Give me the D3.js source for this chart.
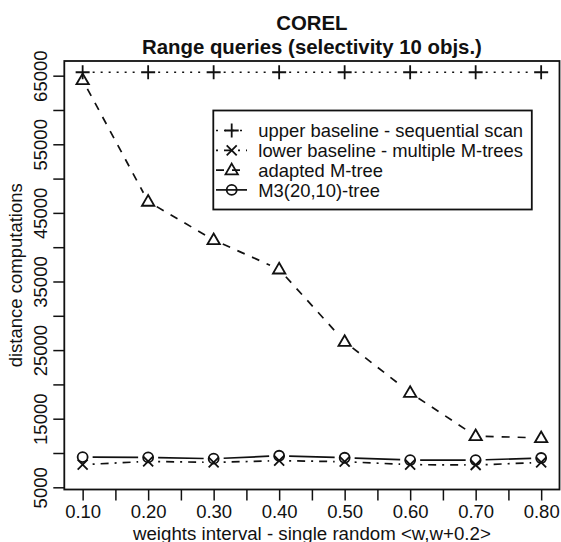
<!DOCTYPE html>
<html>
<head>
<meta charset="utf-8">
<script src="https://cdn.jsdelivr.net/npm/d3@7"></script>
<style>
  body { margin: 0; background: #fff; }
  text { font-family: "Liberation Sans", Arial, Helvetica, sans-serif; fill: #111; }
</style>
</head>
<body>
<script>
// data
var weights = [0.10, 0.20, 0.30, 0.40, 0.50, 0.60, 0.70, 0.80];
var upperBaseline = [65500, 65500, 65500, 65500, 65500, 65500, 65500, 65500];
var lowerBaseline = [8300, 8780, 8630, 8880, 8730, 8300, 8250, 8630];
var adaptedMtree = [64370, 46650, 41050, 36780, 26220, 18790, 12480, 12190];
var m3Tree = [9410, 9360, 9170, 9600, 9310, 8970, 8970, 9270];
var xTicks = [0.10, 0.15, 0.20, 0.25, 0.30, 0.35, 0.40, 0.45, 0.50, 0.55, 0.60, 0.65, 0.70, 0.75, 0.80];
var yTicks = [5000, 10000, 15000, 20000, 25000, 30000, 35000, 40000, 45000, 50000, 55000, 60000, 65000];
var legendLabels = ["upper baseline - sequential scan", "lower baseline - multiple M-trees", "adapted M-tree", "M3(20,10)-tree"];

var width = 561, height = 542;
var box = {left: 64.3, right: 559.5, top: 61, bottom: 489.5};

var svg = d3.select("body")
    .append("svg")
    .attr("width", width)
    .attr("height", height);

var x = d3.scaleLinear()
    .domain([0.072, 0.828])
    .range([box.left, box.right]);

var y = d3.scaleLinear()
    .domain([4680, 67140])
    .range([box.bottom, box.top]);

// series styles (R lty / pch)
var series = [
    {name: legendLabels[0], values: upperBaseline, dash: "2,6", pch: "plus"},
    {name: legendLabels[1], values: lowerBaseline, dash: "2,6,8,6", pch: "cross"},
    {name: legendLabels[2], values: adaptedMtree, dash: "8,8", pch: "triangle"},
    {name: legendLabels[3], values: m3Tree, dash: null, pch: "circle"}
];

// symbol paths centred at 0,0
var drawSymbol = function(g, pch) {
    var p;
    if (pch == "plus") {
        p = "M-7,0H7M0,-7V7";
    } else if (pch == "cross") {
        p = "M-5,-5L5,5M-5,5L5,-5";
    } else if (pch == "triangle") {
        p = "M0,-6.5L6.2,4.2H-6.2Z";
    } else {
        p = "M5,0A5,5 0 1,1 -5,0A5,5 0 1,1 5,0Z";
    }
    g.append("path")
        .attr("d", p)
        .attr("fill", "none")
        .attr("stroke", "#111")
        .attr("stroke-width", 1.8);
};

// #region TITLES
svg.append("text")
    .attr("x", (box.left + box.right) / 2)
    .attr("y", 30)
    .attr("text-anchor", "middle")
    .style("font-size", "20.4px")
    .style("font-weight", "bold")
    .text("COREL");

svg.append("text")
    .attr("x", (box.left + box.right) / 2)
    .attr("y", 54)
    .attr("text-anchor", "middle")
    .style("font-size", "20.4px")
    .style("font-weight", "bold")
    .text("Range queries (selectivity 10 objs.)");
// #endregion

// #region AXES
var xAxis = svg.append("g")
    .attr("transform", "translate(0," + box.bottom + ")")
    .call(d3.axisBottom(x)
        .tickValues(xTicks)
        .tickSize(11)
        .tickFormat(d => (Math.round(d * 100) % 10 == 0) ? d3.format(".2f")(d) : ""));
xAxis.select(".domain").remove();
xAxis.selectAll("line").attr("stroke", "#111").attr("stroke-width", 1.5);
xAxis.selectAll("text")
    .attr("y", 15.5)
    .attr("dy", "0.71em")
    .style("font-size", "18.5px")
    .style("font-family", "'Liberation Sans', Arial, sans-serif")
    .attr("fill", "#111");

var yAxis = svg.append("g")
    .attr("transform", "translate(" + box.left + ",0)")
    .call(d3.axisLeft(y)
        .tickValues(yTicks)
        .tickSize(11)
        .tickFormat(d => (d % 10000 == 5000) ? d : ""));
yAxis.select(".domain").remove();
yAxis.selectAll("line").attr("stroke", "#111").attr("stroke-width", 1.5);
yAxis.selectAll("text")
    .attr("x", null)
    .attr("dy", null)
    .attr("text-anchor", "middle")
    .attr("transform", "translate(-17.6,0) rotate(-90)")
    .style("font-size", "18.5px")
    .style("font-family", "'Liberation Sans', Arial, sans-serif")
    .attr("fill", "#111");

svg.append("text")
    .attr("x", (box.left + box.right) / 2)
    .attr("y", 539.5)
    .attr("text-anchor", "middle")
    .style("font-size", "18.7px")
    .text("weights interval - single random <w,w+0.2>");

svg.append("text")
    .attr("transform", "translate(22," + ((box.top + box.bottom) / 2) + ") rotate(-90)")
    .attr("text-anchor", "middle")
    .style("font-size", "18.5px")
    .text("distance computations");

// plot box
svg.append("rect")
    .attr("x", box.left)
    .attr("y", box.top)
    .attr("width", box.right - box.left)
    .attr("height", box.bottom - box.top)
    .attr("fill", "none")
    .attr("stroke", "#111")
    .attr("stroke-width", 1.8);
// #endregion

// #region LINES (type "b": segments stop short of points)
var gap = 10;
series.forEach(function(s) {
    var g = svg.append("g");
    for (var i = 0; i < s.values.length - 1; i++) {
        var x0 = x(weights[i]), y0 = y(s.values[i]);
        var x1 = x(weights[i + 1]), y1 = y(s.values[i + 1]);
        var len = Math.hypot(x1 - x0, y1 - y0);
        if (len <= 2 * gap) continue;
        var ux = (x1 - x0) / len, uy = (y1 - y0) / len;
        g.append("line")
            .attr("x1", x0 + ux * gap)
            .attr("y1", y0 + uy * gap)
            .attr("x2", x1 - ux * gap)
            .attr("y2", y1 - uy * gap)
            .attr("stroke", "#111")
            .attr("stroke-width", 1.7)
            .attr("stroke-dasharray", s.dash);
    }
    for (var i = 0; i < s.values.length; i++) {
        var pg = g.append("g")
            .attr("transform", "translate(" + x(weights[i]) + "," + y(s.values[i]) + ")");
        drawSymbol(pg, s.pch);
    }
});
// #endregion

// #region LEGEND
var legend = svg.append("g");
legend.append("rect")
    .attr("x", 213.3)
    .attr("y", 110.5)
    .attr("width", 318.5)
    .attr("height", 99)
    .attr("fill", "#fff")
    .attr("stroke", "#111")
    .attr("stroke-width", 1.8);

series.forEach(function(s, i) {
    var ly = 130.5 + i * 19.8;
    legend.append("line")
        .attr("x1", 216)
        .attr("x2", 247)
        .attr("y1", ly)
        .attr("y2", ly)
        .attr("stroke", "#111")
        .attr("stroke-width", 1.7)
        .attr("stroke-dasharray", s.dash);
    drawSymbol(legend.append("g").attr("transform", "translate(231.7," + ly + ")"), s.pch);
    legend.append("text")
        .attr("x", 258.3)
        .attr("y", ly)
        .attr("dy", "0.36em")
        .style("font-size", "18.4px")
        .text(s.name);
});
// #endregion
</script>
</body>
</html>
